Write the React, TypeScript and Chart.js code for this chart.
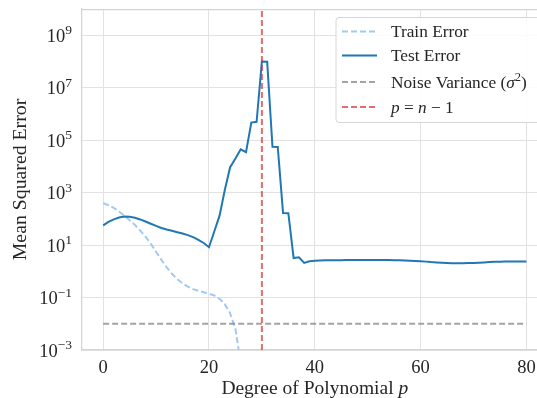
import React, { useEffect, useRef } from "react";
import { Chart, registerables } from "chart.js";

Chart.register(...registerables);

// ---- data ----
const degrees = [
  0, 1, 2, 3, 4, 5, 6, 7, 8, 9, 10, 11, 12, 13, 14, 15, 16, 17, 18, 19, 20,
  21, 22, 23, 24, 25, 26, 27, 28, 29, 30, 31, 32, 33, 34, 35, 36, 37, 38, 39, 40,
  41, 42, 43, 44, 45, 46, 47, 48, 49, 50, 51, 52, 53, 54, 55, 56, 57, 58, 59, 60,
  61, 62, 63, 64, 65, 66, 67, 68, 69, 70, 71, 72, 73, 74, 75, 76, 77, 78, 79, 80,
];

const testError = [
  56, 76, 95, 112, 123, 120, 110, 95, 79, 65, 54, 45, 39, 35, 31, 27.5, 24, 20, 15.8, 12, 8.3,
  33, 132, 1290, 9300, 2.0e4, 4.5e4, 3.5e4, 4.7e5, 5.0e5, 1.0e8, 0.98e8, 5.6e4, 5.5e4, 166, 164,
  3.2, 3.4, 2.1, 2.4, 2.51,
  2.57, 2.63, 2.63, 2.63, 2.63, 2.69, 2.69, 2.69, 2.69, 2.69, 2.69, 2.69, 2.69, 2.69, 2.63,
  2.63, 2.57, 2.51, 2.45, 2.4, 2.34, 2.24, 2.19, 2.14, 2.09, 2.04, 2.04, 2.04, 2.09, 2.09,
  2.14, 2.19, 2.24, 2.29, 2.29, 2.34, 2.34, 2.34, 2.34, 2.34,
];

const trainError = [
  400, 331, 263, 190, 132, 89, 59, 35.5, 21, 11.2, 5.6, 2.75, 1.41, 0.81, 0.5, 0.35, 0.26,
  0.21, 0.18, 0.16, 0.14, 0.12, 0.089, 0.056, 0.025, 0.0063, 0.00032, 1e-6, 1e-9, 1e-12, 1e-15,
];

const noiseVariance = 0.01;
const noiseRange = [0, 80];
const interpolationDegree = 30; // p = n - 1

const xTicks = [0, 20, 40, 60, 80];
const yTickValues = [1e-3, 1e-1, 1e1, 1e3, 1e5, 1e7, 1e9];
const yTickBase = "10";
const yTickExponents = ["\u22123", "\u22121", "1", "3", "5", "7", "9"];

const xMin = -4;
const xMax = 82;
const xAxisEnd = 84;
const yMin = 1e-3;
const yMax = 1e10;

// ---- styles ----
const FONT = '"Liberation Serif", "DejaVu Serif", "Times New Roman", serif';
const TEXT = "#262626";
const GRID = "#e2e2e2";
const SPINE = "#d4d4d4";
const TEST_COLOR = "#1f77b4";
const TRAIN_COLOR = "#a1c9f4";
const NOISE_COLOR = "rgba(128,128,128,0.72)";
const RED_COLOR = "rgba(214,39,40,0.68)";

type Run = { text: string; style?: string; size?: number; dy?: number };

function runFont(r: Run, base: number) {
  return `${r.style || ""} ${r.size || base}px ${FONT}`;
}
function measureRuns(ctx: CanvasRenderingContext2D, runs: Run[], base: number) {
  let w = 0;
  for (const r of runs) {
    ctx.font = runFont(r, base);
    w += ctx.measureText(r.text).width;
  }
  return w;
}
function drawRuns(ctx: CanvasRenderingContext2D, runs: Run[], x: number, y: number, base: number) {
  for (const r of runs) {
    ctx.font = runFont(r, base);
    ctx.fillText(r.text, x, y + (r.dy || 0));
    x += ctx.measureText(r.text).width;
  }
}

const legendItems: { runs: Run[]; color: string; dash: number[]; width: number }[] = [
  { runs: [{ text: "Train Error" }], color: TRAIN_COLOR, dash: [6, 3], width: 2 },
  { runs: [{ text: "Test Error" }], color: TEST_COLOR, dash: [], width: 2 },
  {
    runs: [
      { text: "Noise Variance (" },
      { text: "\u03C3", style: "italic" },
      { text: "2", size: 12.5, dy: -7 },
      { text: ")" },
    ],
    color: NOISE_COLOR,
    dash: [6, 3],
    width: 2,
  },
  {
    runs: [
      { text: "p", style: "italic" },
      { text: " = " },
      { text: "n", style: "italic" },
      { text: " \u2212 " },
      { text: "1" },
    ],
    color: RED_COLOR,
    dash: [6, 3],
    width: 2,
  },
];
const legendRowOffsets = [14, 38, 64.5, 89.5];

const decorPlugin = {
  id: "decor",
  beforeDatasetsDraw(chart: any) {
    const { ctx, chartArea } = chart;
    ctx.save();
    ctx.strokeStyle = SPINE;
    ctx.lineWidth = 1.25;
    ctx.beginPath();
    ctx.moveTo(chartArea.left, chartArea.top + 0.5);
    ctx.lineTo(chartArea.right, chartArea.top + 0.5);
    ctx.stroke();
    ctx.restore();
  },
  afterDraw(chart: any) {
    const { ctx, chartArea } = chart;
    const xs = chart.scales.x;
    const ys = chart.scales.y;
    ctx.save();
    ctx.fillStyle = TEXT;
    ctx.textBaseline = "alphabetic";

    // y tick labels with superscript exponents
    yTickValues.forEach((v, i) => {
      const py = ys.getPixelForValue(v);
      const runs: Run[] = [
        { text: yTickBase },
        { text: yTickExponents[i], size: 13.5, dy: -7.5 },
      ];
      const w = measureRuns(ctx, runs, 18.5);
      drawRuns(ctx, runs, chartArea.left - 10 - w, py + 6.5, 18.5);
    });

    // x-axis title (centered on full axes span)
    const titleRuns: Run[] = [{ text: "Degree of Polynomial " }, { text: "p", style: "italic" }];
    const axisCenter = (xs.getPixelForValue(xMin) + xs.getPixelForValue(xAxisEnd)) / 2;
    const tw = measureRuns(ctx, titleRuns, 19.5);
    drawRuns(ctx, titleRuns, axisCenter - tw / 2, chartArea.bottom + 43.5, 19.5);

    // legend
    const bx = chartArea.right - 201;
    const by = chartArea.top + 8.5;
    const bw = 230;
    const bh = 105;
    const r = 3;
    ctx.beginPath();
    ctx.moveTo(bx + r, by);
    ctx.lineTo(bx + bw - r, by);
    ctx.arcTo(bx + bw, by, bx + bw, by + r, r);
    ctx.lineTo(bx + bw, by + bh - r);
    ctx.arcTo(bx + bw, by + bh, bx + bw - r, by + bh, r);
    ctx.lineTo(bx + r, by + bh);
    ctx.arcTo(bx, by + bh, bx, by + bh - r, r);
    ctx.lineTo(bx, by + r);
    ctx.arcTo(bx, by, bx + r, by, r);
    ctx.closePath();
    ctx.fillStyle = "rgba(255,255,255,0.85)";
    ctx.fill();
    ctx.strokeStyle = "#d6d6d6";
    ctx.lineWidth = 1;
    ctx.stroke();

    legendItems.forEach((item, i) => {
      const cy = by + legendRowOffsets[i];
      ctx.strokeStyle = item.color;
      ctx.lineWidth = item.width;
      ctx.setLineDash(item.dash);
      ctx.beginPath();
      ctx.moveTo(bx + 6, cy);
      ctx.lineTo(bx + 41, cy);
      ctx.stroke();
      ctx.setLineDash([]);
      ctx.fillStyle = TEXT;
      drawRuns(ctx, item.runs, bx + 55, cy + 5.8, 17.3);
    });
    ctx.restore();
  },
};

export default function App() {
  const ref = useRef<HTMLCanvasElement | null>(null);

  useEffect(() => {
    document.body.style.margin = "0";
    document.body.style.overflow = "hidden";
    const canvas = ref.current;
    if (!canvas) return;

    const testData = degrees.map((d, i) => ({ x: d, y: testError[i] }));
    const trainData = trainError.map((v, i) => ({ x: degrees[i], y: v }));
    const noiseData = noiseRange.map((d) => ({ x: d, y: noiseVariance }));
    const redData = [
      { x: interpolationDegree, y: yMin },
      { x: interpolationDegree, y: yMax },
    ];

    const chart = new Chart(canvas, {
      type: "line",
      data: {
        datasets: [
          {
            label: "p = n \u2212 1",
            data: redData,
            borderColor: RED_COLOR,
            borderWidth: 2,
            borderDash: [6, 3],
            pointRadius: 0,
            tension: 0,
          },
          {
            label: "Noise Variance (\u03C3\u00B2)",
            data: noiseData,
            borderColor: NOISE_COLOR,
            borderWidth: 2,
            borderDash: [6, 3],
            pointRadius: 0,
            tension: 0,
          },
          {
            label: "Test Error",
            data: testData,
            borderColor: TEST_COLOR,
            borderWidth: 2,
            pointRadius: 0,
            tension: 0,
          },
          {
            label: "Train Error",
            data: trainData,
            borderColor: TRAIN_COLOR,
            borderWidth: 2,
            borderDash: [6, 3],
            pointRadius: 0,
            tension: 0,
          },
        ],
      },
      options: {
        animation: false,
        responsive: false,
        maintainAspectRatio: false,
        events: [],
        layout: { padding: { top: 9, right: 0, bottom: 0, left: 0 } },
        plugins: {
          legend: { display: false },
          tooltip: { enabled: false },
          title: { display: false },
        },
        scales: {
          x: {
            type: "linear",
            min: xMin,
            max: xMax,
            afterBuildTicks: (scale: any) => {
              scale.ticks = xTicks.map((v) => ({ value: v }));
            },
            afterFit: (scale: any) => {
              scale.height = 48;
              scale.paddingLeft = 0;
              scale.paddingRight = 0;
            },
            grid: { color: GRID, lineWidth: 1, drawTicks: false },
            border: { display: true, color: SPINE, width: 1.25 },
            ticks: {
              padding: 7,
              color: TEXT,
              font: { family: FONT, size: 18.5 },
              maxRotation: 0,
              autoSkip: false,
              callback: (v: any) => String(v),
            },
          },
          y: {
            type: "logarithmic",
            min: yMin,
            max: yMax,
            afterBuildTicks: (scale: any) => {
              scale.ticks = yTickValues.map((v) => ({ value: v }));
            },
            afterFit: (scale: any) => {
              scale.width = 82;
              scale.paddingTop = 0;
              scale.paddingBottom = 0;
            },
            grid: { color: GRID, lineWidth: 1, drawTicks: false },
            border: { display: true, color: SPINE, width: 1.25 },
            title: {
              display: true,
              text: "Mean Squared Error",
              color: TEXT,
              font: { family: FONT, size: 19.8 },
              padding: { top: 9, bottom: 0 },
            },
            ticks: { display: false },
          },
        },
      },
      plugins: [decorPlugin],
    });

    return () => chart.destroy();
  }, []);

  return (
    <canvas
      ref={ref}
      width={537}
      height={398}
      style={{ display: "block", width: 537, height: 398 }}
    />
  );
}
